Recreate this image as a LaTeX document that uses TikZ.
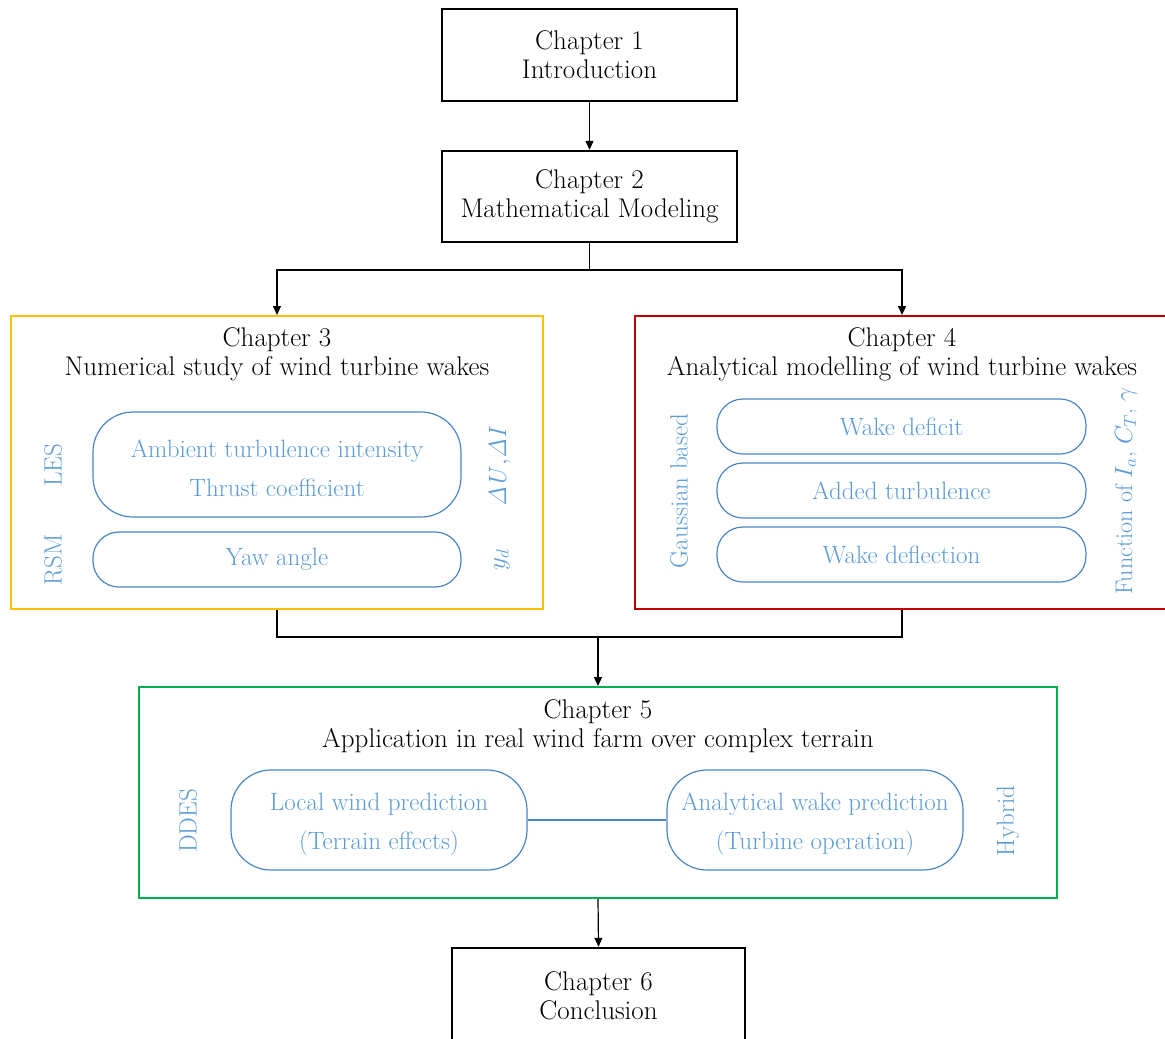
\documentclass[tikz,border=0pt]{standalone}
\usetikzlibrary{arrows.meta}
\definecolor{tblue}{HTML}{5B9BD5}
\definecolor{bblue}{HTML}{4A86C5}
\definecolor{cyel}{HTML}{FFC000}
\definecolor{cred}{HTML}{C00000}
\definecolor{cgreen}{HTML}{00B050}
\begin{document}
\begin{tikzpicture}[x=1pt,y=-1pt,
  every node/.style={font=\fontsize{27}{29}\selectfont, inner sep=0pt},
  bluefont/.style={font=\fontsize{25}{28}\selectfont},
  chbox/.style={draw=black, line width=2.4pt, align=center},
  frame/.style={line width=2pt},
  pill/.style={bluefont, draw=bblue, line width=1.2pt, text=tblue, align=center, rounded corners=26pt},
  bigpill/.style={bluefont, draw=bblue, line width=1.2pt, text=tblue, align=center, rounded corners=40pt},
  side/.style={bluefont, text=tblue, rotate=90},
  conn/.style={line width=1.2pt},
  arr/.style={conn, -{Triangle[length=9pt,width=8pt]}}
]
\useasboundingbox (0,0) rectangle (1165,1039);
\clip (0,0) rectangle (1165,1039);

% chapter 1 and 2
\node[chbox, minimum width=295pt, minimum height=92pt] (c1) at (589.5,55) {Chapter 1\\Introduction};
\node[chbox, minimum width=295pt, minimum height=91pt] (c2) at (589.5,196.5) {Chapter 2\\Mathematical Modeling};

% chapter 3 frame
\node[draw=cyel, frame, minimum width=532pt, minimum height=293pt] (c3) at (277,462.5) {};
\node[align=center] (t3) at (277,354) {Chapter 3\\Numerical study of wind turbine wakes};
\node[bigpill, minimum width=368pt, minimum height=105pt] (p31) at (277,464.5) {};
\node[bluefont, text=tblue, align=center] (p31t) at (277,468) {Ambient turbulence intensity\\[11pt]Thrust coefficient};
\node[pill, minimum width=368pt, minimum height=55pt] (p32) at (277,559.5) {Yaw angle};
\node[side] (les) at (53,465) {LES};
\node[side] (rsm) at (53,560) {RSM};
\node[side] (du) at (500,466) {$\mathit{\Delta U}{,}\mathit{\Delta I}$};
\node[side] (yd) at (502,560) {$y_d$};

% chapter 4 frame
\node[draw=cred, frame, minimum width=560pt, minimum height=293pt] (c4) at (915,462.5) {};
\node[align=center] (t4) at (902,354) {Chapter 4\\Analytical modelling of wind turbine wakes};
\node[pill, minimum width=369pt, minimum height=55pt] (p41) at (901.5,426.5) {Wake deficit};
\node[pill, minimum width=369pt, minimum height=55pt] (p42) at (901.5,490.5) {Added turbulence};
\node[pill, minimum width=369pt, minimum height=55pt] (p43) at (901.5,554.5) {Wake deflection};
\node[side] (gb) at (679,491) {Gaussian based};
\node[side, font=\fontsize{24}{28}\selectfont] (fo) at (1126,491) {Function of $I_a$, $C_T$, $\gamma$};

% chapter 5 frame
\node[draw=cgreen, frame, minimum width=918pt, minimum height=211pt] (c5) at (598,792.5) {};
\node[align=center] (t5) at (598,726) {Chapter 5\\Application in real wind farm over complex terrain};
\node[bigpill, minimum width=296pt, minimum height=100pt] (p51) at (379,820) {};
\node[bluefont, text=tblue, align=center] (p51t) at (379,824) {Local wind prediction\\[11pt](Terrain effects)};
\node[bigpill, minimum width=296pt, minimum height=100pt] (p52) at (815,820) {};
\node[bluefont, text=tblue, align=center] (p52t) at (815,824) {Analytical wake prediction\\[11pt](Turbine operation)};
\node[side] (dd) at (188,821) {DDES};
\node[side] (hy) at (1008,821) {Hybrid};
\draw[draw=bblue, line width=1.2pt] (p51.east) -- (p52.west);

% chapter 6
\node[chbox, minimum width=293pt, minimum height=110pt] (c6) at (598.5,1003) {};
\node[align=center] (t6) at (598.5,996) {Chapter 6\\Conclusion};

% connectors
\coordinate (s2) at (589.5,270);
\coordinate (s2r) at (902,270);
\coordinate (m3) at (277,637);
\coordinate (m4) at (902,637);
\coordinate (m5) at (598,637);
\draw[arr] (c1.south) -- (c2.north);
\draw[conn] (c2.south) -- (s2);
\draw[arr] (s2) -| (c3.north);
\draw[arr] (s2) -| (s2r |- c4.north);
\draw[conn] (c3.south) -- (m3) -- (m4) -- (m4 |- c4.south);
\draw[arr] (m5) -- (c5.north);
\draw[arr] (c5.south) -- (c6.north);
\end{tikzpicture}
\end{document}
